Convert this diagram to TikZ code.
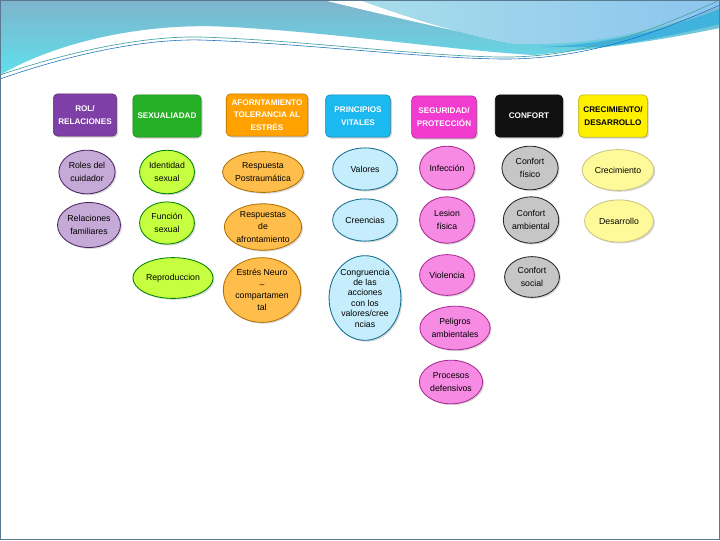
\documentclass[tikz,border=0pt]{standalone}
\usepackage{fontspec}
\setmainfont{Liberation Sans}
\usetikzlibrary{positioning,shapes.geometric,shadows}

\definecolor{rolC}{HTML}{7E3FA6}
\definecolor{sexC}{HTML}{26B026}
\definecolor{afrC}{HTML}{FFA200}
\definecolor{priC}{HTML}{1CB8F0}
\definecolor{segC}{HTML}{F23CD0}
\definecolor{conC}{HTML}{111111}
\definecolor{creC}{HTML}{FFF000}
\definecolor{waveA}{HTML}{7FB4CC}
\definecolor{waveB}{HTML}{5EE0EC}
\definecolor{waveL}{HTML}{A8DEEA}
\definecolor{waveM}{HTML}{8CC4EE}
\definecolor{waveD}{HTML}{3FB2DE}
\definecolor{frameC}{HTML}{5A7890}

\tikzset{
  head/.style={draw=#1!70!black, fill=#1, rounded corners=3pt, minimum width=46pt,
    minimum height=30pt, text=white, align=center, font=\fontsize{5.8}{9.5}\selectfont\bfseries,
    drop shadow={opacity=0.35, shadow xshift=1pt, shadow yshift=-1pt}},
  item/.style 2 args={ellipse, draw=#2, fill=#1, line width=0.6pt, inner sep=0.5pt,
    align=center, font=\fontsize{6.2}{9}\selectfont,
    drop shadow={opacity=0.3, shadow xshift=1pt, shadow yshift=-1pt}},
}

\begin{document}
\begin{tikzpicture}[x=0.025cm, y=-0.025cm]
\useasboundingbox (0,0) rectangle (720,540);

% fondo
\fill[white] (0,0) rectangle (720,540);
\shade[top color=waveA, bottom color=waveB] (0,0) -- (720,0) -- (720,28)
  .. controls (680,36) and (630,46) .. (533,55)
  .. controls (450,50) and (330,32) .. (230,27)
  .. controls (150,22) and (60,40) .. (0,75) -- cycle;
\fill[white] (323,0) -- (360,0) .. controls (420,22) and (470,36) .. (517,44)
  .. controls (450,30) and (380,14) .. (323,0) -- cycle;
\shade[left color=waveL, right color=waveM] (360,0) -- (720,0) -- (720,7)
  .. controls (680,20) and (620,46) .. (517,44)
  .. controls (470,36) and (420,22) .. (360,0) -- cycle;
\fill[waveD] (540,47) .. controls (620,44) and (680,24) .. (720,9) -- (720,24)
  .. controls (680,34) and (640,42) .. (600,47) -- cycle;
\draw[teal!70, line width=0.5pt] (0,75) .. controls (80,48) and (150,36) .. (200,37)
  .. controls (300,40) and (420,56) .. (500,57) .. controls (580,58) and (650,32) .. (720,0);
\draw[cyan!50!blue, line width=0.4pt] (0,79) .. controls (80,51) and (150,39) .. (200,40)
  .. controls (300,43) and (420,58) .. (500,59) .. controls (580,60) and (650,36) .. (720,5);
\draw[frameC, line width=0.6pt] (0.5,0.5) rectangle (719.5,539.5);

% encabezados
\node[head=rolC, minimum width=45pt] (rol) at (85,115) {ROL/\\RELACIONES};
\node[head=sexC] (sex) at (167,116) {SEXUALIADAD};
\node[head=afrC, minimum width=58pt, font=\fontsize{5.8}{8.8}\selectfont\bfseries] (afr) at (267,115) {AFORNTAMIENTO\\TOLERANCIA AL\\ESTRÉS};
\node[head=priC] (pri) at (358,116) {PRINCIPIOS\\VITALES};
\node[head=segC] (seg) at (444,117) {SEGURIDAD/\\PROTECCIÓN};
\node[head=conC, minimum width=48pt] (con) at (529,116) {CONFORT};
\node[head=creC, text=black] (cre) at (613,116) {CRECIMIENTO/\\DESARROLLO};

% rol / relaciones
\node[item={rolC!45!white}{rolC!60!black}, minimum width=40pt, minimum height=31pt] (roles) at (87,172) {Roles del\\cuidador};
\node[item={rolC!45!white}{rolC!60!black}, minimum width=40pt, minimum height=32pt] (relfam) at (89,225) {Relaciones\\familiares};

% sexualidad
\node[item={green!30!yellow!75!white}{green!50!black}, minimum width=39pt, minimum height=31pt] (ident) at (167,172) {Identidad\\sexual};
\node[item={green!30!yellow!75!white}{green!50!black}, minimum width=39pt, minimum height=30pt] (func) at (167,223) {Función\\sexual};
\node[item={green!30!yellow!75!white}{green!50!black}, minimum width=57pt, minimum height=29pt] (repro) at (173,278) {Reproduccion};

% afrontamiento
\node[item={afrC!70!white}{afrC!70!black}, minimum width=54pt, minimum height=29pt] (postr) at (263,172) {Respuesta\\Postraumática};
\node[item={afrC!70!white}{afrC!70!black}, minimum width=54pt, minimum height=32pt] (respaf) at (263,227) {Respuestas\\de\\afrontamiento};
\node[item={afrC!70!white}{afrC!70!black}, minimum width=52pt, minimum height=46pt, font=\fontsize{6.2}{8.2}\selectfont] (neuro) at (262,290) {Estrés Neuro\\–\\compartamen\\tal};

% principios vitales
\node[item={priC!25!white}{priC!60!black}, minimum width=46pt, minimum height=30pt] (valores) at (365,169) {Valores};
\node[item={priC!25!white}{priC!60!black}, minimum width=46pt, minimum height=30pt] (creencias) at (365,220) {Creencias};
\node[item={priC!25!white}{priC!60!black}, minimum width=50pt, minimum height=56pt, font=\fontsize{6.2}{7.4}\selectfont] (congr) at (365,298) {Congruencia\\de las\\acciones\\con los\\valores/cree\\ncias};

% seguridad
\node[item={segC!60!white}{segC!70!black}, minimum width=39pt, minimum height=31pt] (infec) at (447,168) {Infección};
\node[item={segC!60!white}{segC!70!black}, minimum width=39pt, minimum height=33pt] (lesion) at (447,220) {Lesion\\física};
\node[item={segC!60!white}{segC!70!black}, minimum width=39pt, minimum height=29pt] (violen) at (447,275) {Violencia};
\node[item={segC!60!white}{segC!70!black}, minimum width=50pt, minimum height=31pt] (peligros) at (455,328) {Peligros\\ambientales};
\node[item={segC!60!white}{segC!70!black}, minimum width=45pt, minimum height=31pt] (procesos) at (451,382) {Procesos\\defensivos};

% confort
\node[item={gray!45!white}{black!85}, minimum width=40pt, minimum height=31pt] (cfis) at (530,168) {Confort\\físico};
\node[item={gray!45!white}{black!85}, minimum width=38pt, minimum height=33pt] (camb) at (531,220) {Confort\\ambiental};
\node[item={gray!45!white}{black!85}, minimum width=39pt, minimum height=29pt] (csoc) at (532,277) {Confort\\social};

% crecimiento
\node[item={yellow!40!white}{yellow!60!black!60}, minimum width=51pt, minimum height=29pt] (crec) at (618,170) {Crecimiento};
\node[item={yellow!40!white}{yellow!60!black!60}, minimum width=49pt, minimum height=30pt] (desa) at (619,221) {Desarrollo};
\end{tikzpicture}
\end{document}
